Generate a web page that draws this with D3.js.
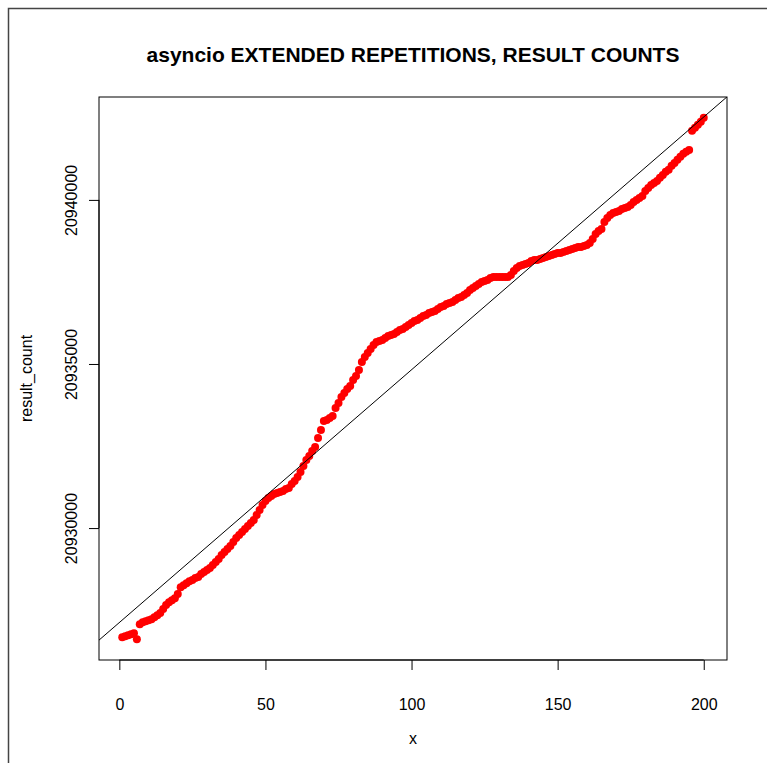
<!DOCTYPE html>
<html>
<head>
<meta charset="utf-8">
<script src="https://cdn.jsdelivr.net/npm/d3@7"></script>
<style>
  body { margin: 0; background: #fff; }
  text { font-family: "Liberation Sans", Arial, Helvetica, sans-serif; fill: #000; }
</style>
</head>
<body>
<div id="chart"></div>
<script>
// result_count for each repetition (x = 1..200)
var resultCount = [
  20926676, 20926706, 20926737, 20926767, 20926798, 20926615, 20927072, 20927133, 20927164, 20927194,
  20927225, 20927286, 20927347, 20927408, 20927530, 20927652, 20927743, 20927804, 20927865, 20927987,
  20928200, 20928261, 20928322, 20928383, 20928414, 20928475, 20928505, 20928597, 20928658, 20928719,
  20928780, 20928871, 20928963, 20929054, 20929176, 20929268, 20929359, 20929450, 20929572, 20929694,
  20929786, 20929877, 20929969, 20930060, 20930152, 20930243, 20930396, 20930548, 20930701, 20930823,
  20930914, 20930975, 20931036, 20931066, 20931097, 20931127, 20931188, 20931219, 20931341, 20931432,
  20931554, 20931707, 20931890, 20932073, 20932195, 20932347, 20932469, 20932743, 20932987, 20933262,
  20933292, 20933353, 20933414, 20933658, 20933811, 20933993, 20934115, 20934237, 20934329, 20934512,
  20934634, 20934817, 20935061, 20935213, 20935335, 20935457, 20935579, 20935670, 20935701, 20935731,
  20935792, 20935853, 20935884, 20935914, 20935975, 20936036, 20936067, 20936128, 20936189, 20936250,
  20936311, 20936341, 20936402, 20936463, 20936494, 20936555, 20936585, 20936616, 20936677, 20936738,
  20936768, 20936829, 20936860, 20936890, 20936951, 20937012, 20937042, 20937103, 20937164, 20937256,
  20937317, 20937378, 20937439, 20937500, 20937530, 20937561, 20937622, 20937652, 20937652, 20937652,
  20937652, 20937652, 20937652, 20937713, 20937835, 20937927, 20937988, 20938018, 20938049, 20938079,
  20938140, 20938171, 20938171, 20938201, 20938232, 20938262, 20938293, 20938323, 20938354, 20938384,
  20938384, 20938415, 20938445, 20938475, 20938506, 20938536, 20938567, 20938567, 20938597, 20938628,
  20938689, 20938811, 20938963, 20939055, 20939116, 20939329, 20939451, 20939543, 20939604, 20939634,
  20939665, 20939726, 20939756, 20939787, 20939848, 20939939, 20940000, 20940061, 20940122, 20940274,
  20940366, 20940457, 20940518, 20940579, 20940671, 20940762, 20940854, 20940915, 20941037, 20941128,
  20941220, 20941311, 20941403, 20941464, 20941524, 20942104, 20942195, 20942287, 20942378, 20942500
];

// reference line (intercept, slope)
var lineCoef = [20927121, 77.03];

var xTicks = [0, 50, 100, 150, 200];
var yTicks = [20930000, 20935000, 20940000];

var title = 'asyncio EXTENDED REPETITIONS, RESULT COUNTS';
var xLabel = 'x';
var yLabel = 'result_count';

/*-------------------------------------------------------*/
function main(){

    var data = resultCount.map((d, i) => { return { x: i + 1, y: d }; });

    // plot box in page pixels
    var W = 767, H = 763;
    var box = { left: 99, right: 727, top: 97, bottom: 660 };

    // R style 4% padding on both ends
    var xr = d3.extent(data, (d) => { return d.x; });
    var yr = d3.extent(data, (d) => { return d.y; });
    var xp = (xr[1] - xr[0]) * 0.04, yp = (yr[1] - yr[0]) * 0.04;

    var x = d3.scaleLinear()
              .domain([xr[0] - xp, xr[1] + xp])
              .range([box.left, box.right]);
    var y = d3.scaleLinear()
              .domain([yr[0] - yp, yr[1] + yp])
              .range([box.bottom, box.top]);

    var svg = d3.select('#chart').append('svg')
                .attr('width', W)
                .attr('height', H);

    // outer frame of the screenshot
    svg.append('path')
       .attr('d', 'M8.5,' + H + 'V8.5H' + W)
       .attr('fill', 'none')
       .attr('stroke', '#444')
       .attr('stroke-width', 1.5);

    svg.append('clipPath').attr('id', 'clip')
       .append('rect')
       .attr('x', box.left).attr('y', box.top)
       .attr('width', box.right - box.left)
       .attr('height', box.bottom - box.top);

    // points
    svg.append('g')
       .selectAll('circle')
       .data(data)
     .enter().append('circle')
       .attr('cx', (d) => { return x(d.x); })
       .attr('cy', (d) => { return y(d.y); })
       .attr('r', 4)
       .attr('fill', '#ff0000');

    // abline
    var x0 = x.domain()[0], x1 = x.domain()[1];
    svg.append('line')
       .attr('clip-path', 'url(#clip)')
       .attr('x1', x(x0)).attr('y1', y(lineCoef[0] + lineCoef[1] * x0))
       .attr('x2', x(x1)).attr('y2', y(lineCoef[0] + lineCoef[1] * x1))
       .attr('stroke', '#000')
       .attr('stroke-width', 1);

    // box
    svg.append('rect')
       .attr('x', box.left).attr('y', box.top)
       .attr('width', box.right - box.left)
       .attr('height', box.bottom - box.top)
       .attr('fill', 'none')
       .attr('stroke', '#000')
       .attr('stroke-width', 1);

    // x axis
    var gx = svg.append('g')
       .attr('transform', 'translate(0,' + box.bottom + ')')
       .call(d3.axisBottom(x).tickValues(xTicks).tickSize(10).tickPadding(29));
    gx.select('.domain').attr('d', 'M' + x(xTicks[0]) + ',0H' + x(xTicks[xTicks.length - 1]));
    gx.selectAll('text').style('font-size', '16px').attr('fill', '#000');

    // y axis
    var gy = svg.append('g')
       .attr('transform', 'translate(' + box.left + ',0)')
       .call(d3.axisLeft(y).tickValues(yTicks).tickSize(10).tickFormat(d3.format('d')));
    gy.select('.domain').attr('d', 'M0,' + y(yTicks[0]) + 'V' + y(yTicks[yTicks.length - 1]));
    gy.selectAll('text')
      .style('font-size', '16px')
      .attr('fill', '#000')
      .attr('x', null).attr('dy', null)
      .attr('text-anchor', 'middle')
      .attr('transform', 'translate(-28,0) rotate(-90)')
      .attr('dy', '0.35em');

    // title & labels
    svg.append('text')
       .attr('x', (box.left + box.right) / 2)
       .attr('y', 62)
       .attr('text-anchor', 'middle')
       .style('font-size', '21px')
       .style('font-weight', 'bold')
       .text(title);

    svg.append('text')
       .attr('x', (box.left + box.right) / 2)
       .attr('y', 744)
       .attr('text-anchor', 'middle')
       .style('font-size', '16px')
       .text(xLabel);

    svg.append('text')
       .attr('transform', 'translate(32,' + (box.top + box.bottom) / 2 + ') rotate(-90)')
       .attr('text-anchor', 'middle')
       .style('font-size', '16px')
       .text(yLabel);
}

main();
</script>
</body>
</html>
